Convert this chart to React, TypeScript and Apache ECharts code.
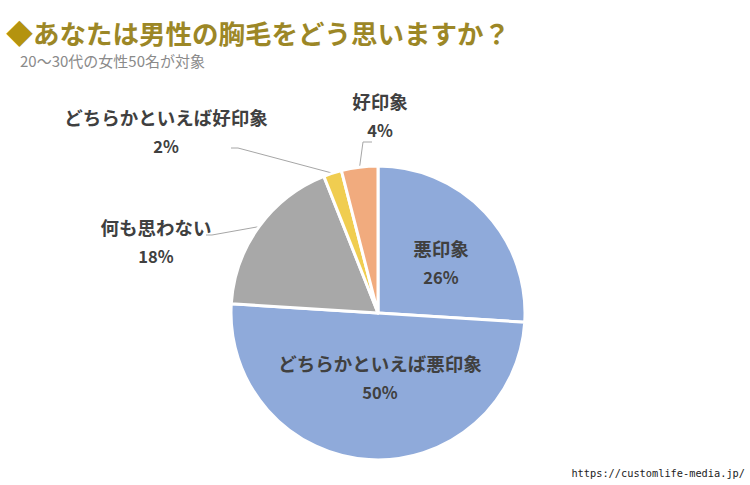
import React, { useEffect, useRef } from "react";
import * as echarts from "echarts";

const categories = ["悪印象", "どちらかといえば悪印象", "何も思わない", "どちらかといえば好印象", "好印象"];
const values = [26, 50, 18, 2, 4];
const colors = ["#8FAADA", "#8FAADA", "#A8A8A8", "#F0CD50", "#F1AB7E"];
const titleText = "あなたは男性の胸毛をどう思いますか？";
const subtitleText = "20～30代の女性50名が対象";
const sourceText = "https://customlife-media.jp/";

const innerIdx = [0, 1];

export default function App() {
  const ref = useRef<HTMLDivElement>(null);
  useEffect(() => {
    if (!ref.current) return;
    const chart = echarts.init(ref.current, undefined, { renderer: "svg" });
    const cx = 378, cy = 313, R = 147;
    const total = values.reduce((a, b) => a + b, 0);
    const edgePoint = (i: number) => {
      let cum = 0;
      for (let k = 0; k < i; k++) cum += values[k];
      const mid = ((cum + values[i] / 2) / total) * Math.PI * 2;
      return [cx + Math.sin(mid) * R, cy - Math.cos(mid) * R];
    };
    const outsideLayout: Record<number, any> = {
      2: { x: 156, y: 241, bend: [212, 235], end: [206, 235] },
      3: { x: 166, y: 131, bend: [238, 148], end: [231, 148] },
      4: { x: 380, y: 115, bend: [363, 142], end: [372, 142] },
    };
    const data = categories.map((name, i) => {
      const inner = innerIdx.includes(i);
      return {
        name,
        value: values[i],
        itemStyle: { color: colors[i] },
        label: { position: inner ? "inner" : "outside" },
        labelLine: { show: !inner },
      };
    });
    chart.setOption({
      animation: false,
      backgroundColor: "#ffffff",
      title: [
        {
          text: "{d|◆}{t|" + titleText + "}",
          left: 6,
          top: 17,
          padding: 0,
          textStyle: {
            rich: {
              d: { fontSize: 27, color: "#B4930F", fontFamily: "Noto Sans CJK JP", lineHeight: 30 },
              t: { fontSize: 26.5, color: "#9C8726", fontWeight: "bold", fontFamily: "Noto Sans CJK JP", lineHeight: 30 },
            },
          },
        },
        {
          text: subtitleText,
          left: 20,
          top: 51,
          padding: 0,
          textStyle: {
            fontSize: 15,
            fontWeight: "normal",
            color: "#8A8A8A",
            fontFamily: "Noto Sans CJK JP",
            lineHeight: 18,
          },
        },
      ],
      graphic: [
        {
          type: "text",
          right: 5,
          top: 468,
          style: {
            text: sourceText,
            fontSize: 10.3,
            fontFamily: "DejaVu Sans Mono",
            fill: "#222",
          },
        },
      ],
      series: [
        {
          type: "pie",
          center: [cx, cy],
          radius: [0, R],
          startAngle: 90,
          clockwise: true,
          avoidLabelOverlap: false,
          itemStyle: { borderColor: "#ffffff", borderWidth: 3 },
          label: {
            formatter: "{n|{b}}\n{p|{c}%}",
            color: "#404040",
            rich: {
              n: { fontSize: 18.5, fontWeight: "bold", color: "#404040", fontFamily: "Noto Sans CJK JP", lineHeight: 30, align: "center" },
              p: { fontSize: 16.5, fontWeight: "bold", color: "#404040", fontFamily: "Noto Sans CJK JP", lineHeight: 28, align: "center" },
            },
          },
          labelLine: {
            lineStyle: { color: "#A6A6A6", width: 1 },
          },
          labelLayout: (params: any) => {
            const i = params.dataIndex;
            if (i === 0) return { x: 441, y: 262, align: "center", verticalAlign: "middle" };
            if (i === 1) return { x: 380, y: 377, align: "center", verticalAlign: "middle" };
            const o = outsideLayout[i];
            if (!o) return {};
            const start = params.labelLinePoints && params.labelLinePoints[0] ? params.labelLinePoints[0] : edgePoint(i);
            return {
              x: o.x,
              y: o.y,
              align: "center",
              verticalAlign: "middle",
              labelLinePoints: [start, o.bend, o.end],
            };
          },
          data,
        },
      ],
    });
    return () => chart.dispose();
  }, []);
  return <div ref={ref} style={{ position: "fixed", left: 0, top: 0, width: 750, height: 485 }} />;
}
